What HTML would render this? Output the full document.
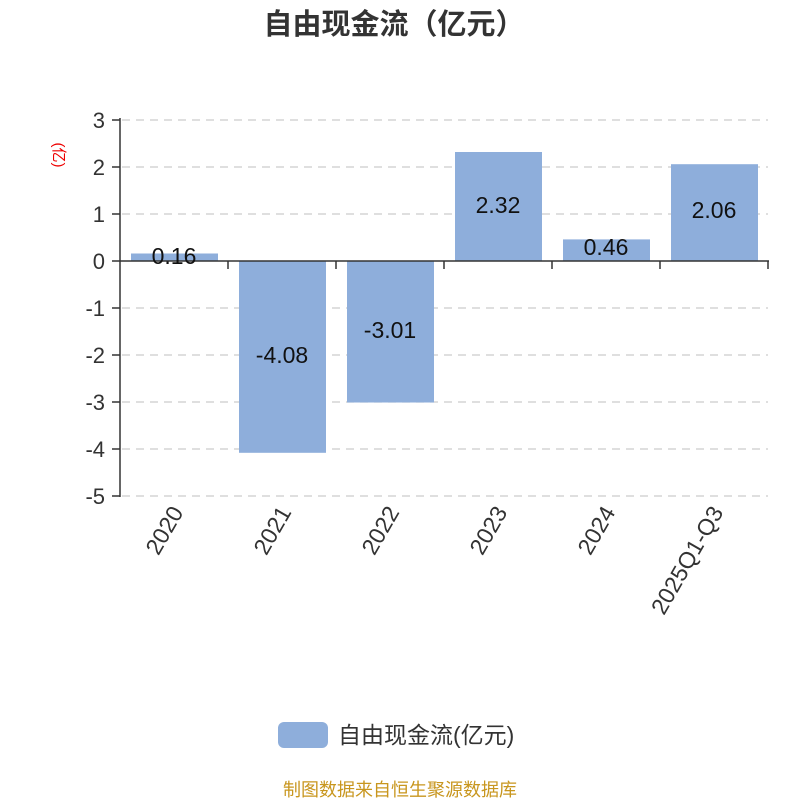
<!DOCTYPE html>
<html><head><meta charset="utf-8"><style>
body{margin:0;background:#fff;}
svg{display:block;font-family:"Liberation Sans","Noto Sans CJK SC",sans-serif;}
</style></head><body>
<svg width="800" height="800" viewBox="0 0 800 800">
<text x="394" y="34" text-anchor="middle" font-size="29" font-weight="bold" fill="#333">自由现金流（亿元）</text>
<text transform="translate(54,155) rotate(90)" text-anchor="middle" font-size="15" fill="#e00">(亿)</text>
<g stroke="#ccc" stroke-width="1.3" stroke-dasharray="8,6">
<line x1="122" y1="120" x2="768" y2="120"/>
<line x1="122" y1="167" x2="768" y2="167"/>
<line x1="122" y1="214" x2="768" y2="214"/>
<line x1="122" y1="308" x2="768" y2="308"/>
<line x1="122" y1="355" x2="768" y2="355"/>
<line x1="122" y1="402" x2="768" y2="402"/>
<line x1="122" y1="449" x2="768" y2="449"/>
<line x1="122" y1="496" x2="768" y2="496"/>
</g>
<g fill="#8eaedb">
<rect x="131" y="253.5" width="87" height="7.5"/>
<rect x="239" y="261" width="87" height="191.8"/>
<rect x="347" y="261" width="87" height="141.5"/>
<rect x="455" y="152" width="87" height="109"/>
<rect x="563" y="239.4" width="87" height="21.6"/>
<rect x="671" y="164.2" width="87" height="96.8"/>
</g>
<g stroke="#333" stroke-width="1.5">
<line x1="120" y1="118" x2="120" y2="497"/>
<line x1="112" y1="120" x2="120" y2="120"/><line x1="112" y1="167" x2="120" y2="167"/>
<line x1="112" y1="214" x2="120" y2="214"/><line x1="112" y1="261" x2="120" y2="261"/>
<line x1="112" y1="308" x2="120" y2="308"/><line x1="112" y1="355" x2="120" y2="355"/>
<line x1="112" y1="402" x2="120" y2="402"/><line x1="112" y1="449" x2="120" y2="449"/>
<line x1="112" y1="496" x2="120" y2="496"/>
<line x1="120" y1="261" x2="769" y2="261"/>
<line x1="228" y1="261" x2="228" y2="269"/><line x1="336" y1="261" x2="336" y2="269"/>
<line x1="444" y1="261" x2="444" y2="269"/><line x1="552" y1="261" x2="552" y2="269"/>
<line x1="660" y1="261" x2="660" y2="269"/><line x1="768" y1="261" x2="768" y2="269"/>
</g>
<g font-size="22" fill="#333" text-anchor="end">
<text x="105" y="128">3</text><text x="105" y="175">2</text><text x="105" y="222">1</text>
<text x="105" y="269">0</text><text x="105" y="316">-1</text><text x="105" y="363">-2</text>
<text x="105" y="410">-3</text><text x="105" y="457">-4</text><text x="105" y="504">-5</text>
</g>
<g font-size="23" fill="#111" text-anchor="middle">
<text x="174" y="264">0.16</text>
<text x="282" y="363">-4.08</text>
<text x="390" y="338">-3.01</text>
<text x="498" y="213">2.32</text>
<text x="606" y="255">0.46</text>
<text x="714" y="218">2.06</text>
</g>
<g font-size="23" fill="#333" text-anchor="end">
<text transform="translate(184,512) rotate(-60)">2020</text>
<text transform="translate(292,512) rotate(-60)">2021</text>
<text transform="translate(400,512) rotate(-60)">2022</text>
<text transform="translate(508,512) rotate(-60)">2023</text>
<text transform="translate(616,512) rotate(-60)">2024</text>
<text transform="translate(724,512) rotate(-60)">2025Q1-Q3</text>
</g>
<rect x="278" y="722" width="50" height="26" rx="6" fill="#8eaedb"/>
<text x="338" y="743" font-size="23" fill="#333">自由现金流(亿元)</text>
<text x="400" y="796" text-anchor="middle" font-size="18" fill="#c8961e">制图数据来自恒生聚源数据库</text>
</svg>
</body></html>
